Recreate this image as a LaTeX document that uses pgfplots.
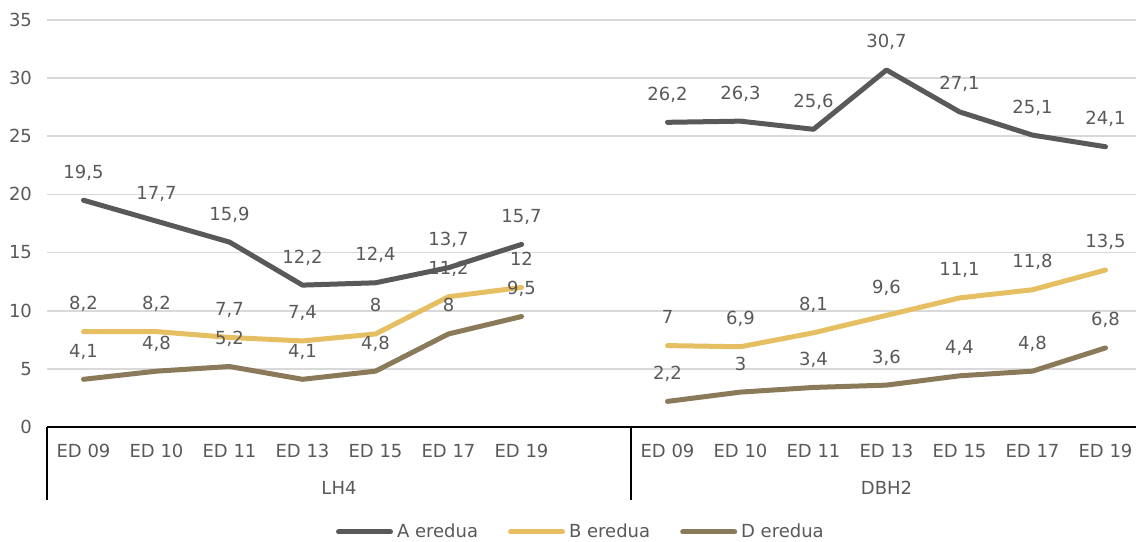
\documentclass[border=0pt]{standalone}
\usepackage{fontspec}
\setmainfont{DejaVu Sans}
\usepackage{pgfplots}
\pgfplotsset{compat=1.18}

\definecolor{serA}{HTML}{595959}
\definecolor{serB}{HTML}{E6BF62}
\definecolor{serD}{HTML}{8B7A5A}
\definecolor{txt}{HTML}{595959}
\definecolor{gridc}{HTML}{D9D9D9}

% x: 0-6 = LH4, 7 empty, 8-14 = DBH2
\pgfplotstableread{
x  A     B     D
0  19.5  8.2   4.1
1  17.7  8.2   4.8
2  15.9  7.7   5.2
3  12.2  7.4   4.1
4  12.4  8.0   4.8
5  13.7  11.2  8.0
6  15.7  12.0  9.5
}\lhfour
\pgfplotstableread{
x  A     B     D
8  26.2  7.0   2.2
9  26.3  6.9   3.0
10 25.6  8.1   3.4
11 30.7  9.6   3.6
12 27.1  11.1  4.4
13 25.1  11.8  4.8
14 24.1  13.5  6.8
}\dbhtwo

\begin{document}
\begin{tikzpicture}
\begin{axis}[
  scale only axis,
  width=547.5pt, height=203.5pt,
  xmin=-0.5, xmax=14.5, ymin=0, ymax=35,
  clip=false,
  axis x line=bottom, axis y line=left,
  x axis line style={black, line width=1pt, -},
  y axis line style={draw=none},
  xtick={0,1,2,3,4,5,6,8,9,10,11,12,13,14},
  xticklabels={ED 09,ED 10,ED 11,ED 13,ED 15,ED 17,ED 19,
               ED 09,ED 10,ED 11,ED 13,ED 15,ED 17,ED 19},
  ytick={0,5,...,35},
  major tick length=0pt,
  ymajorgrids,
  grid style={gridc, line width=0.9pt},
  tick label style={font=\fontsize{9}{11}\selectfont, text=txt},
  xticklabel style={anchor=base, yshift=-15.4pt},
  yticklabel style={anchor=east, xshift=-4pt},
  /pgf/number format/use comma,
  /pgf/number format/fixed,
  /pgf/number format/precision=1,
  /pgf/number format/assume math mode=true,
  nodes near coords,
  nodes near coords style={font=\fontsize{9}{11}\selectfont, text=txt,
    anchor=base, yshift=11pt, inner sep=0pt},
  every axis plot/.append style={line width=2.5pt, line join=round, line cap=round, mark=none},
  legend columns=3,
  legend style={draw=none, fill=none, at={(0.4885,0)}, anchor=center, yshift=-52.5pt,
    font=\fontsize{9}{11}\selectfont, text=txt,
    /tikz/every even column/.append style={column sep=13pt}},
  legend image code/.code={\draw[#1, line width=2.5pt, line cap=round] (0pt,0pt) -- (26pt,0pt);},
]
\addplot[serA] table[x=x, y=A] {\lhfour};
\addlegendentry{A eredua}
\addplot[serB] table[x=x, y=B] {\lhfour};
\addlegendentry{B eredua}
\addplot[serD] table[x=x, y=D] {\lhfour};
\addlegendentry{D eredua}
\addplot[serA, forget plot] table[x=x, y=A] {\dbhtwo};
\addplot[serB, forget plot] table[x=x, y=B] {\dbhtwo};
\addplot[serD, forget plot] table[x=x, y=D] {\dbhtwo};

\draw[black, line width=1pt] (axis cs:-0.5,0) -- ([yshift=-36.5pt]axis cs:-0.5,0);
\draw[black, line width=1pt] (axis cs:7.5,0) -- ([yshift=-36.5pt]axis cs:7.5,0);
\node[anchor=base, text=txt, font=\fontsize{9}{11}\selectfont] at ([yshift=-34pt]axis cs:3.5,0) {LH4};
\node[anchor=base, text=txt, font=\fontsize{9}{11}\selectfont] at ([yshift=-34pt]axis cs:11,0) {DBH2};

\coordinate (bl) at (rel axis cs:0,0);
\coordinate (tr) at (rel axis cs:1,1);
\end{axis}
\pgfresetboundingbox
\path[use as bounding box] ([xshift=-23.5pt, yshift=-57.5pt]bl) rectangle ([xshift=-3pt, yshift=10pt]tr);
\end{tikzpicture}
\end{document}
